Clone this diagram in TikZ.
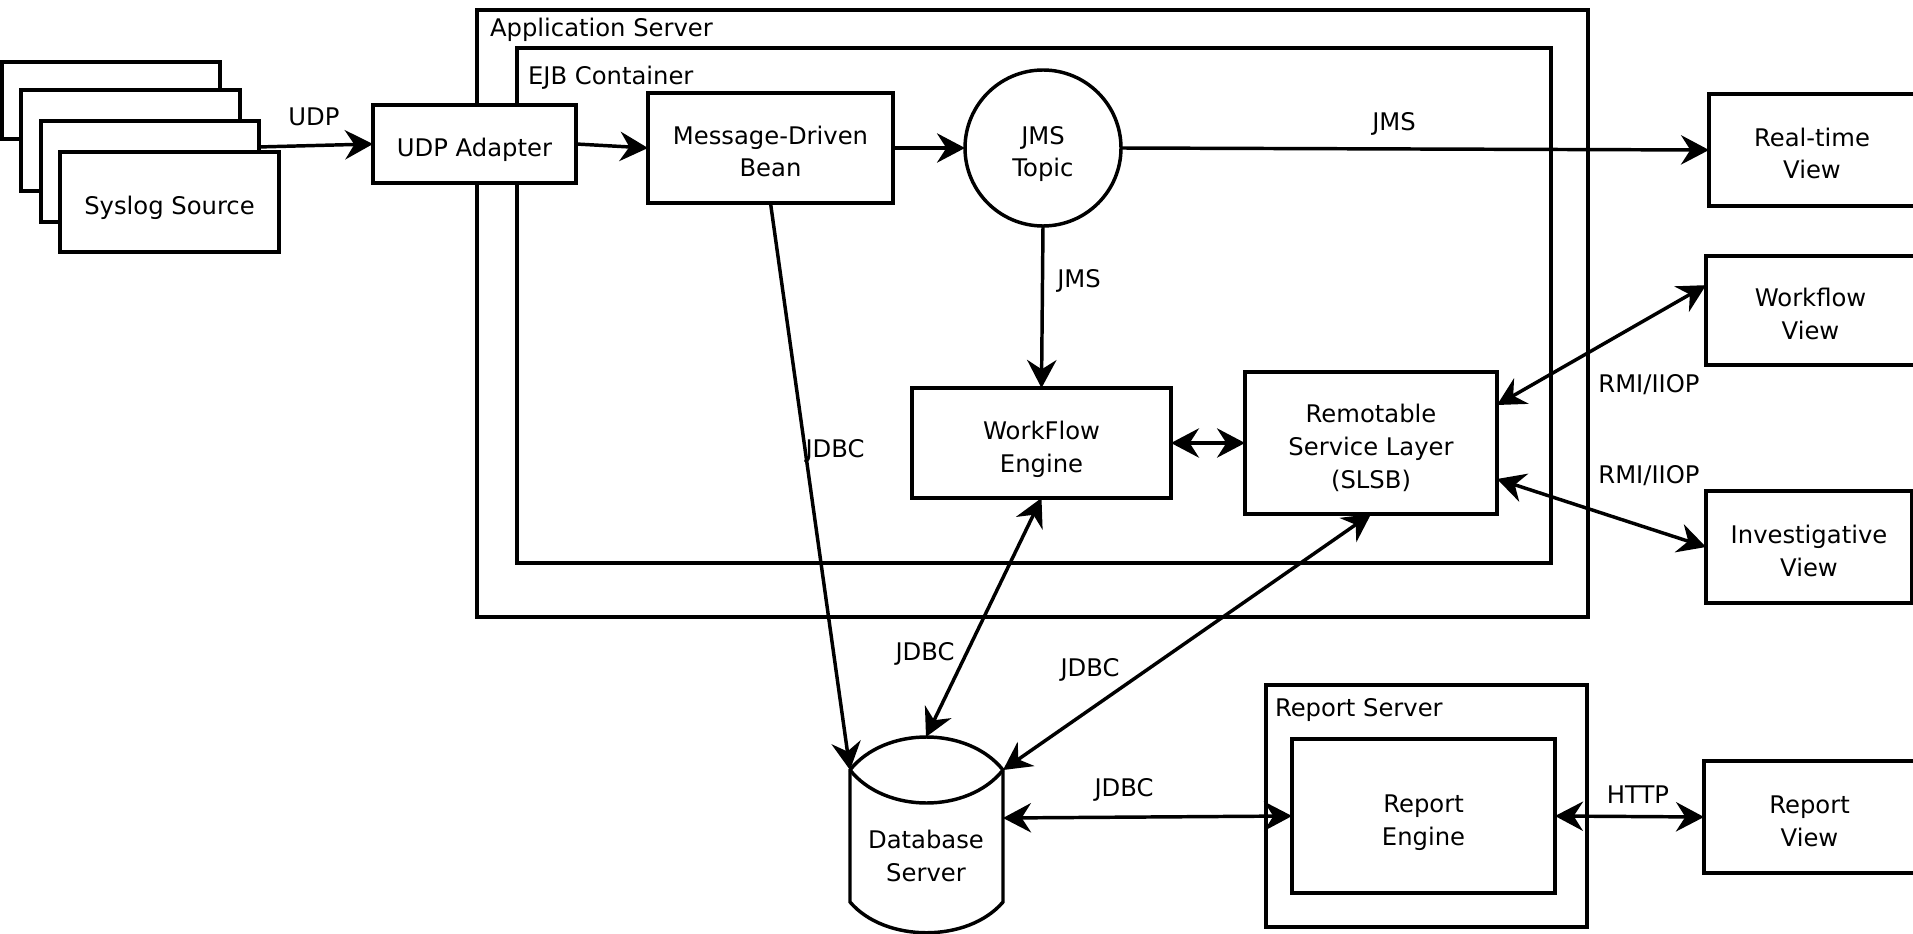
\documentclass[tikz,border=0pt]{standalone}
\usepackage{fontspec}
\setmainfont{DejaVu Sans}
\usetikzlibrary{arrows.meta}
\newcommand\boxtext[1]{\raisebox{-8.85pt}[0pt][0pt]{\begin{tabular}{@{}c@{}}#1\end{tabular}}}
\begin{document}
\begin{tikzpicture}[x=0.75pt,y=-0.75pt,
  every node/.style={font=\fontsize{18.2}{24.6}\selectfont, inner sep=0pt, outer sep=0pt},
  box/.style={draw, line width=2.6pt, fill=white},
  frame/.style={draw, line width=2.6pt},
  tip/.tip={Stealth[length=21pt,width=22pt,inset=7pt]},
  arr/.style={line width=2.6pt, -tip},
  darr/.style={line width=2.6pt, tip-tip},
]
\useasboundingbox (0,0) rectangle (1913,934);

% containers
\node[frame, minimum width=833.25pt, minimum height=455.25pt] (appsrv) at (1032.5,313.5) {};
\node[anchor=west] (appsrvlbl) at (490,30) {Application Server};
\node[frame, minimum width=775.5pt, minimum height=386.25pt] (ejb) at (1034,305.5) {};
\node[anchor=west] (ejblbl) at (528,78) {EJB Container};

% syslog stack
\node[box, minimum width=163.5pt, minimum height=57.75pt] (sys1) at (111,100.5) {};
\node[box, minimum width=164.25pt, minimum height=75.75pt] (sys2) at (130.5,140.5) {};
\node[box, minimum width=163.5pt, minimum height=75.75pt] (sys3) at (150,171.5) {};
\node[box, minimum width=164.25pt, minimum height=75pt] (sys4) at (169.5,202) {\boxtext{Syslog Source}};

\node[box, minimum width=152.25pt, minimum height=58.5pt] (udp) at (474.5,144) {\boxtext{UDP Adapter}};
\node[box, minimum width=183.75pt, minimum height=82.5pt] (mdb) at (770.5,148) {\boxtext{Message-Driven\\Bean}};
\node[box, circle, minimum size=117pt] (jms) at (1043,148) {\boxtext{JMS\\Topic}};
\node[box, minimum width=194.25pt, minimum height=82.5pt] (wfe) at (1041.5,443) {\boxtext{WorkFlow\\Engine}};
\node[box, minimum width=189pt, minimum height=106.5pt] (rsl) at (1371,443) {\boxtext{Remotable\\Service Layer\\(SLSB)}};

\node[box, minimum width=154.5pt, minimum height=84pt] (rt) at (1812,150) {\boxtext{Real-time\\View}};
\node[box, minimum width=156.75pt, minimum height=81.75pt] (wfv) at (1810.5,310.5) {\boxtext{Workflow\\View}};
\node[box, minimum width=154.5pt, minimum height=84pt] (iv) at (1809,547) {\boxtext{Investigative\\View}};

\node[frame, minimum width=240.75pt, minimum height=181.5pt] (rsrv) at (1426.5,806) {};
\node[anchor=west] (rsrvlbl) at (1275,710) {Report Server};
\node[box, minimum width=197.25pt, minimum height=115.5pt] (re) at (1423.5,816) {\boxtext{Report\\Engine}};
\node[box, minimum width=158.25pt, minimum height=84pt] (rv) at (1809.5,817) {\boxtext{Report\\View}};

% database cylinder
\draw[line width=2.6pt, fill=white] (850,770) .. controls (885,726) and (968,726) .. (1003,770)
  -- (1003,902) .. controls (968,943) and (885,943) .. (850,902) -- cycle;
\draw[line width=2.6pt] (850,770) .. controls (885,814) and (968,814) .. (1003,770);
\node[align=center] (db) at (926,856) {Database\\Server};
\coordinate (dbtl) at (850,770);
\coordinate (dbtop) at (926,737);
\coordinate (dbtr) at (1003,770);
\coordinate (dbr) at (1003,818);

% connectors
\draw[arr] ([yshift=18.4pt]sys3.east) -- (udp.west);
\node (udplbl) at (314,117) {UDP};
\draw[arr] (udp.east) -- (mdb.west);
\draw[arr] (mdb.east) -- (jms.west);
\draw[arr] (jms.east) -- (rt.west);
\node (jmslbl1) at (1394,124) {JMS};
\draw[arr] (jms.south) -- (wfe.north);
\node (jmslbl2) at (1079,281) {JMS};
\draw[darr] (wfe.east) -- (rsl.west);
\draw[darr] ([yshift=28.5pt]rsl.east) -- ([yshift=19pt]wfv.west);
\node (rmilbl1) at (1649,385) {RMI/IIOP};
\draw[darr] ([yshift=-27pt]rsl.east) -- (iv.west);
\node (rmilbl2) at (1649,476) {RMI/IIOP};
\draw[arr] (mdb.south) -- (dbtl);
\node (jdbc1) at (835,451) {JDBC};
\draw[darr] (wfe.south) -- (dbtop);
\node (jdbc2) at (925,654) {JDBC};
\draw[darr] (rsl.south) -- (dbtr);
\node (jdbc3) at (1090,670) {JDBC};
\draw[darr] (dbr) -- (re.west);
\node (jdbc4) at (1124,790) {JDBC};
\draw[darr] (re.east) -- (rv.west);
\node (httplbl) at (1638,795) {HTTP};
\end{tikzpicture}
\end{document}
